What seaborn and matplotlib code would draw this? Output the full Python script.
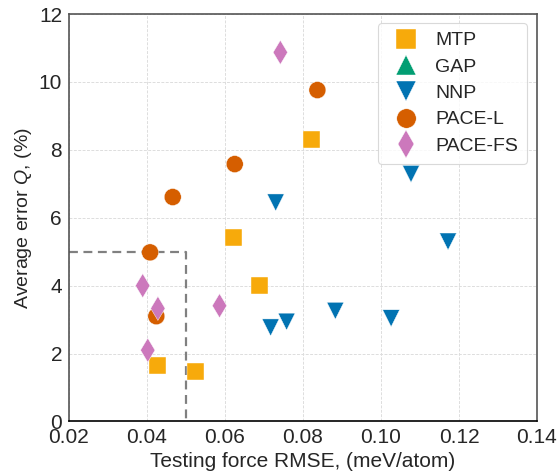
import matplotlib
matplotlib.use("Agg")
import matplotlib.pyplot as plt
import seaborn as sns
import pandas as pd

# ---- data ----
models = ["MTP", "GAP", "NNP", "PACE-L", "PACE-FS"]

mtp_x = [0.0426, 0.0525, 0.0621, 0.0689, 0.0823]
mtp_y = [1.66, 1.48, 5.42, 4.00, 8.31]

gap_x = []
gap_y = []

nnp_x = [0.0730, 0.1077, 0.1172, 0.0717, 0.0758, 0.0883, 0.1026]
nnp_y = [6.45, 7.29, 5.30, 2.77, 2.94, 3.26, 3.04]

pacel_x = [0.0837, 0.0625, 0.0466, 0.0408, 0.0424]
pacel_y = [9.76, 7.58, 6.61, 4.98, 3.10]

pacefs_x = [0.0742, 0.0389, 0.0428, 0.0586, 0.0402]
pacefs_y = [10.87, 4.00, 3.33, 3.41, 2.10]

threshold_x = 0.05
threshold_y = 5.0

xticks = [0.02, 0.04, 0.06, 0.08, 0.10, 0.12, 0.14]
yticks = [0, 2, 4, 6, 8, 10, 12]

# ---- styling ----
colors = {"MTP": "#F7AA0B", "GAP": "#029E73", "NNP": "#0173B2",
          "PACE-L": "#D55E00", "PACE-FS": "#CC78BC"}
markers = {"MTP": "s", "GAP": "^", "NNP": "v", "PACE-L": "o", "PACE-FS": "d"}

frames = []
for name, xs, ys in [("MTP", mtp_x, mtp_y), ("GAP", gap_x, gap_y),
                     ("NNP", nnp_x, nnp_y), ("PACE-L", pacel_x, pacel_y),
                     ("PACE-FS", pacefs_x, pacefs_y)]:
    frames.append(pd.DataFrame({"x": xs, "y": ys, "model": [name] * len(xs)}))
df = pd.concat(frames, ignore_index=True)

sns.set_style("white")
plt.rcParams["font.family"] = ["Liberation Sans", "DejaVu Sans"]
plt.rcParams["mathtext.fontset"] = "custom"
plt.rcParams["mathtext.rm"] = "Liberation Sans"
plt.rcParams["mathtext.it"] = "Liberation Sans:italic"

fig = plt.figure(figsize=(5.59, 4.73), dpi=100)
ax = fig.add_axes([0.1234, 0.1089, 0.8372, 0.8615])

ax.plot([xticks[0], threshold_x, threshold_x], [threshold_y, threshold_y, 0],
        ls=(0, (4, 2.5)), color="#808080", lw=1.6, zorder=1)

sns.scatterplot(data=df, x="x", y="y", hue="model", style="model",
                hue_order=models, style_order=models,
                palette=colors, markers=markers, s=150,
                edgecolor="white", linewidth=0.3, ax=ax, zorder=3)

ax.set_xlim(0.02, 0.14)
ax.set_ylim(0, 12)
ax.set_xticks(xticks)
ax.set_yticks(yticks)
ax.set_xticklabels([f"{t:.2f}" for t in xticks])
ax.set_yticklabels([str(t) for t in yticks])
ax.grid(True, color="#dddddd", lw=0.7, ls="--", dashes=(3, 1.5))
ax.set_axisbelow(True)

for side in ["left", "top", "right"]:
    ax.spines[side].set_color("#555555")
    ax.spines[side].set_linewidth(1.2)
ax.spines["bottom"].set_color("black")
ax.spines["bottom"].set_linewidth(1.2)

ax.tick_params(axis="both", direction="out", length=3, width=1,
               color="#555555", labelsize=15, pad=2)

ax.set_xlabel("Testing force RMSE, (meV/atom)", fontsize=15, labelpad=3)
ax.set_ylabel("Average error $Q$, (%)", fontsize=14, labelpad=3)

handles, labels = ax.get_legend_handles_labels()
hmap = dict(zip(labels, handles))
hs = [hmap[m] for m in models if m in hmap]
ls_ = [m for m in models if m in hmap]
for h in hs:
    try:
        h.set_markersize(14)
        h.set_markeredgecolor("white")
        h.set_markeredgewidth(0.3)
    except Exception:
        pass
leg = ax.legend(hs, ls_, loc="upper right", fontsize=14, frameon=True,
                handletextpad=0.5, labelspacing=0.45, borderpad=0.45,
                borderaxespad=0.0, bbox_to_anchor=(0.9786, 0.978),
                handlelength=2.0, fancybox=True)
leg.get_frame().set_edgecolor("#d0d0d0")
leg.get_frame().set_linewidth(0.8)

fig.savefig("out.png", dpi=100)
